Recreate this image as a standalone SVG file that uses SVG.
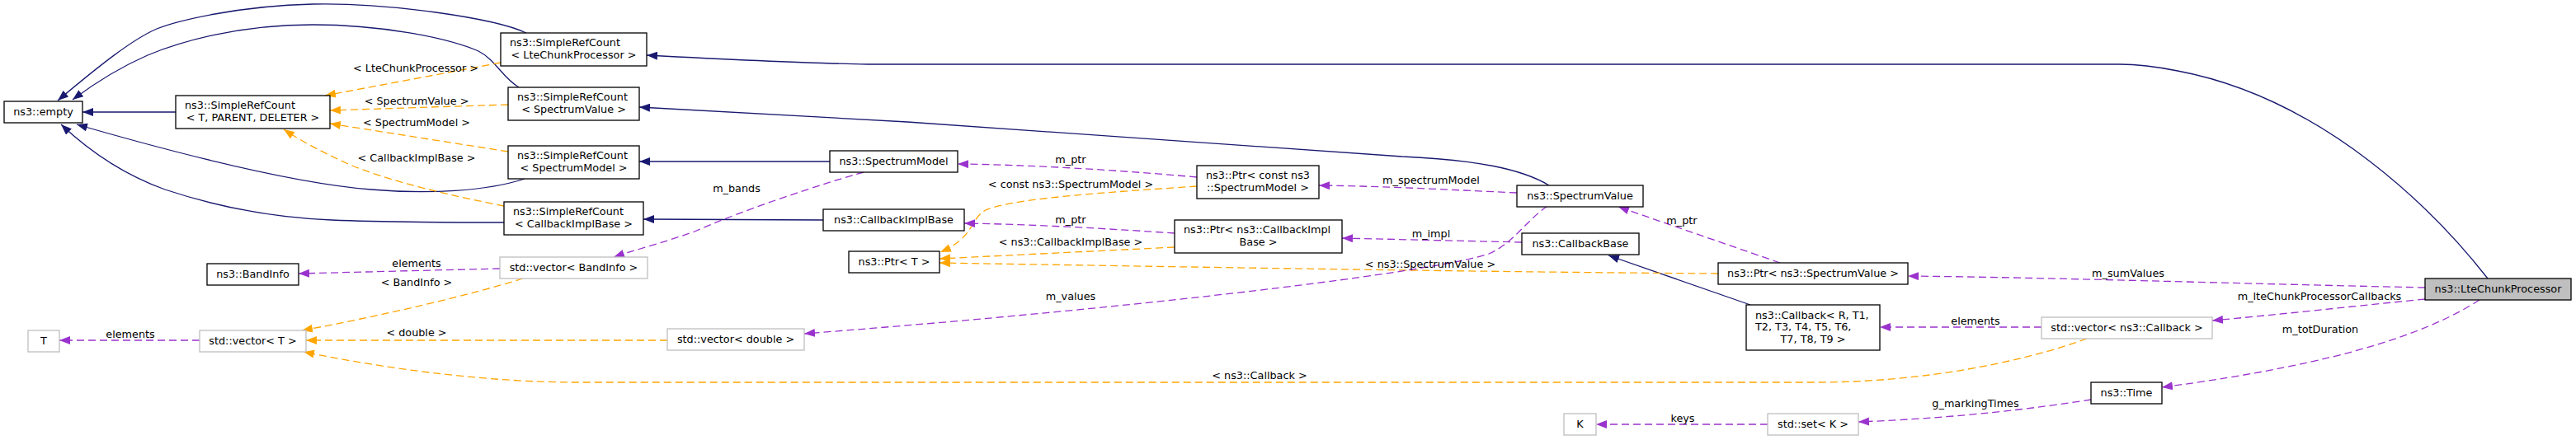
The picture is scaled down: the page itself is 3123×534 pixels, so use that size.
<svg xmlns="http://www.w3.org/2000/svg" width="3123" height="534" viewBox="0 0 3123 534">
<style>
text{font-family:"DejaVu Sans","Liberation Sans",sans-serif;font-size:12.8px;fill:#000}
.m{text-anchor:middle}
.n rect{fill:#fff;stroke:#000;stroke-width:1.3}
.g rect{fill:#fff;stroke:#bfbfbf;stroke-width:1.3}
.cur rect{fill:#bfbfbf;stroke:#000;stroke-width:1.3}
.e{fill:none;stroke-width:1.3}
.inh{stroke:#191970;marker-end:url(#ab)}
.tpl{stroke:#ffa500;stroke-dasharray:9,5;marker-end:url(#ao)}
.use{stroke:#9a32cd;stroke-dasharray:9,5;marker-end:url(#ap)}
</style>
<defs>
<marker id="ab" markerUnits="userSpaceOnUse" viewBox="0 0 13 10" refX="13" refY="5" markerWidth="13" markerHeight="10" orient="auto"><path d="M0,0L13,5L0,10z" fill="#191970"/></marker>
<marker id="ao" markerUnits="userSpaceOnUse" viewBox="0 0 13 10" refX="13" refY="5" markerWidth="13" markerHeight="10" orient="auto"><path d="M0,0L13,5L0,10z" fill="#ffa500"/></marker>
<marker id="ap" markerUnits="userSpaceOnUse" viewBox="0 0 13 10" refX="13" refY="5" markerWidth="13" markerHeight="10" orient="auto"><path d="M0,0L13,5L0,10z" fill="#9a32cd"/></marker>
</defs>
<rect width="3123" height="534" fill="#fff"/>
<g id="edges">
<path class="e inh" d="M638,40 C600,22 470,3 379,5 C290,7 215,25 190,35 C160,48 120,80 70,122"/>
<path class="e inh" d="M629,106 C610,95 600,72 580,62 C540,45 460,30 379,30 C290,30 220,50 179,67 C140,84 112,103 88,121"/>
<path class="e inh" d="M213,136 L100,136"/>
<path class="e inh" d="M636,217 C590,232 520,236 450,230 C350,222 200,182 93,151"/>
<path class="e inh" d="M611,270 C560,270 470,270 402,267 C330,264 260,250 200,230 C150,212 110,185 74,151"/>
<path class="e inh" d="M3016,338 C2955,260 2820,120 2640,86 C2615,81 2595,78 2570,78 L1052,78 C980,77 860,71 784,67"/>
<path class="e inh" d="M1878,225 C1845,205 1790,194 1700,190 L1100,148 L775,130"/>
<path class="e inh" d="M1006,196 L775,196"/>
<path class="e inh" d="M998,267 L780,266"/>
<path class="e inh" d="M2122,370 L1950,310"/>

<path class="e tpl" d="M607,76 L394,116"/>
<path class="e tpl" d="M616,127 L400,134"/>
<path class="e tpl" d="M616,184 L400,150"/>
<path class="e tpl" d="M611,250 C550,238 470,220 420,198 C385,182 360,168 344,157"/>
<path class="e tpl" d="M1451,226 C1350,233 1230,240 1195,255 C1175,266 1182,288 1140,306"/>
<path class="e tpl" d="M1424,300 L1139,314"/>
<path class="e tpl" d="M2083,332 C1800,330 1500,325 1139,319"/>
<path class="e tpl" d="M634,338 C570,358 460,384 366,401"/>
<path class="e tpl" d="M809,413 L371,413"/>
<path class="e tpl" d="M2530,411 C2450,440 2330,464 2200,464 L700,464 C600,464 480,450 368,427"/>

<path class="e use" d="M1047,209 C1000,222 900,255 842,281 C800,296 770,303 744,312"/>
<path class="e use" d="M606,326 L362,332"/>
<path class="e use" d="M242,413 L72,413"/>
<path class="e use" d="M1451,215 C1350,206 1250,200 1161,199"/>
<path class="e use" d="M1424,283 C1350,278 1250,272 1169,271"/>
<path class="e use" d="M1839,234 C1750,230 1680,226 1599,225"/>
<path class="e use" d="M1876,250 C1850,268 1835,295 1805,308 C1740,330 1400,372 975,405"/>
<path class="e use" d="M1845,294 L1627,289"/>
<path class="e use" d="M2158,319 L1962,251"/>
<path class="e use" d="M2940,349 C2700,344 2500,337 2313,335"/>
<path class="e use" d="M2940,363 C2850,372 2760,382 2682,389"/>
<path class="e use" d="M3006,364 C2950,400 2850,440 2621,470"/>
<path class="e use" d="M2475,397 L2279,397"/>
<path class="e use" d="M2535,485 C2470,495 2380,507 2253,512"/>
<path class="e use" d="M2143,515 L1935,515"/>

<text class="m" x="504" y="86.5">&lt; LteChunkProcessor &gt;</text>
<text class="m" x="505" y="126.5">&lt; SpectrumValue &gt;</text>
<text class="m" x="505" y="152.5">&lt; SpectrumModel &gt;</text>
<text class="m" x="505" y="195.5">&lt; CallbackImplBase &gt;</text>
<text class="m" x="505" y="323.5">elements</text>
<text class="m" x="505" y="346.5">&lt; BandInfo &gt;</text>
<text class="m" x="158" y="409.5">elements</text>
<text class="m" x="505" y="407.5">&lt; double &gt;</text>
<text class="m" x="893" y="232.5">m_bands</text>
<text class="m" x="1298" y="197.5">m_ptr</text>
<text class="m" x="1298" y="227.5">&lt; const ns3::SpectrumModel &gt;</text>
<text class="m" x="1298" y="270.5">m_ptr</text>
<text class="m" x="1298" y="297.5">&lt; ns3::CallbackImplBase &gt;</text>
<text class="m" x="1298" y="363.5">m_values</text>
<text class="m" x="1735" y="222.5">m_spectrumModel</text>
<text class="m" x="1735" y="287.5">m_impl</text>
<text class="m" x="1734" y="324.5">&lt; ns3::SpectrumValue &gt;</text>
<text class="m" x="1527" y="459.5">&lt; ns3::Callback &gt;</text>
<text class="m" x="2039" y="271.5">m_ptr</text>
<text class="m" x="2395" y="393.5">elements</text>
<text class="m" x="2580" y="335.5">m_sumValues</text>
<text class="m" x="2395" y="493.5">g_markingTimes</text>
<text class="m" x="2040" y="511.5">keys</text>
<text class="m" x="2812" y="363.5">m_lteChunkProcessorCallbacks</text>
<text class="m" x="2813" y="403.5">m_totDuration</text>
</g>

<g id="n_empty" class="n"><rect x="5" y="123" width="95" height="26"/><text class="m" x="52.5" y="140">ns3::empty</text></g>
<g id="n_src_tpd" class="n"><rect x="213" y="116" width="187" height="40"/><text x="224" y="132">ns3::SimpleRefCount</text><text class="m" x="306.5" y="147">&lt; T, PARENT, DELETER &gt;</text></g>
<g id="n_src_lcp" class="n"><rect x="607" y="40" width="177" height="40"/><text x="618" y="56">ns3::SimpleRefCount</text><text class="m" x="695.5" y="71">&lt; LteChunkProcessor &gt;</text></g>
<g id="n_src_sv" class="n"><rect x="616" y="106" width="159" height="40"/><text x="627" y="122">ns3::SimpleRefCount</text><text class="m" x="695.5" y="137">&lt; SpectrumValue &gt;</text></g>
<g id="n_src_sm" class="n"><rect x="616" y="177" width="159" height="40"/><text x="627" y="193">ns3::SimpleRefCount</text><text class="m" x="695.5" y="208">&lt; SpectrumModel &gt;</text></g>
<g id="n_src_cib" class="n"><rect x="611" y="245" width="169" height="40"/><text x="622" y="261">ns3::SimpleRefCount</text><text class="m" x="695.5" y="276">&lt; CallbackImplBase &gt;</text></g>
<g id="n_spectrummodel" class="n"><rect x="1006" y="183" width="155" height="26"/><text class="m" x="1083.5" y="200">ns3::SpectrumModel</text></g>
<g id="n_callbackimplbase" class="n"><rect x="998" y="254" width="171" height="26"/><text class="m" x="1083.5" y="271">ns3::CallbackImplBase</text></g>
<g id="n_ptr_t" class="n"><rect x="1029" y="305" width="110" height="26"/><text class="m" x="1084" y="322">ns3::Ptr&lt; T &gt;</text></g>
<g id="n_vec_double" class="g"><rect x="809" y="399" width="166" height="26"/><text class="m" x="892" y="416">std::vector&lt; double &gt;</text></g>
<g id="n_vec_bandinfo" class="g"><rect x="606" y="312" width="179" height="26"/><text class="m" x="695.5" y="329">std::vector&lt; BandInfo &gt;</text></g>
<g id="n_bandinfo" class="n"><rect x="251" y="320" width="111" height="26"/><text class="m" x="306.5" y="337">ns3::BandInfo</text></g>
<g id="n_t" class="g"><rect x="34" y="401" width="38" height="26"/><text class="m" x="53" y="418">T</text></g>
<g id="n_vec_t" class="g"><rect x="242" y="401" width="129" height="26"/><text class="m" x="306.5" y="418">std::vector&lt; T &gt;</text></g>
<g id="n_ptr_csm" class="n"><rect x="1451" y="201" width="148" height="40"/><text x="1462" y="217">ns3::Ptr&lt; const ns3</text><text class="m" x="1525" y="232">::SpectrumModel &gt;</text></g>
<g id="n_spectrumvalue" class="n"><rect x="1839" y="225" width="153" height="26"/><text class="m" x="1915.5" y="242">ns3::SpectrumValue</text></g>
<g id="n_ptr_cib" class="n"><rect x="1424" y="267" width="203" height="40"/><text x="1435" y="283">ns3::Ptr&lt; ns3::CallbackImpl</text><text class="m" x="1525.5" y="298">Base &gt;</text></g>
<g id="n_callbackbase" class="n"><rect x="1845" y="283" width="142" height="26"/><text class="m" x="1916" y="300">ns3::CallbackBase</text></g>
<g id="n_k" class="g"><rect x="1896" y="502" width="39" height="26"/><text class="m" x="1915.5" y="519">K</text></g>
<g id="n_ptr_sv" class="n"><rect x="2083" y="319" width="230" height="26"/><text class="m" x="2198" y="336">ns3::Ptr&lt; ns3::SpectrumValue &gt;</text></g>
<g id="n_callback" class="n"><rect x="2117" y="370" width="162" height="55"/><text x="2128" y="386.5">ns3::Callback&lt; R, T1,</text><text x="2128" y="401"> T2, T3, T4, T5, T6,</text><text class="m" x="2198" y="415.5"> T7, T8, T9 &gt;</text></g>
<g id="n_vec_callback" class="g"><rect x="2475" y="385" width="207" height="26"/><text class="m" x="2578.5" y="402">std::vector&lt; ns3::Callback &gt;</text></g>
<g id="n_time" class="n"><rect x="2535" y="464" width="86" height="26"/><text class="m" x="2578" y="481">ns3::Time</text></g>
<g id="n_set_k" class="g"><rect x="2143" y="502" width="110" height="26"/><text class="m" x="2198" y="519">std::set&lt; K &gt;</text></g>
<g id="n_ltechunkprocessor" class="cur"><rect x="2940" y="338" width="177" height="26"/><text class="m" x="3028.5" y="355">ns3::LteChunkProcessor</text></g>
</svg>
